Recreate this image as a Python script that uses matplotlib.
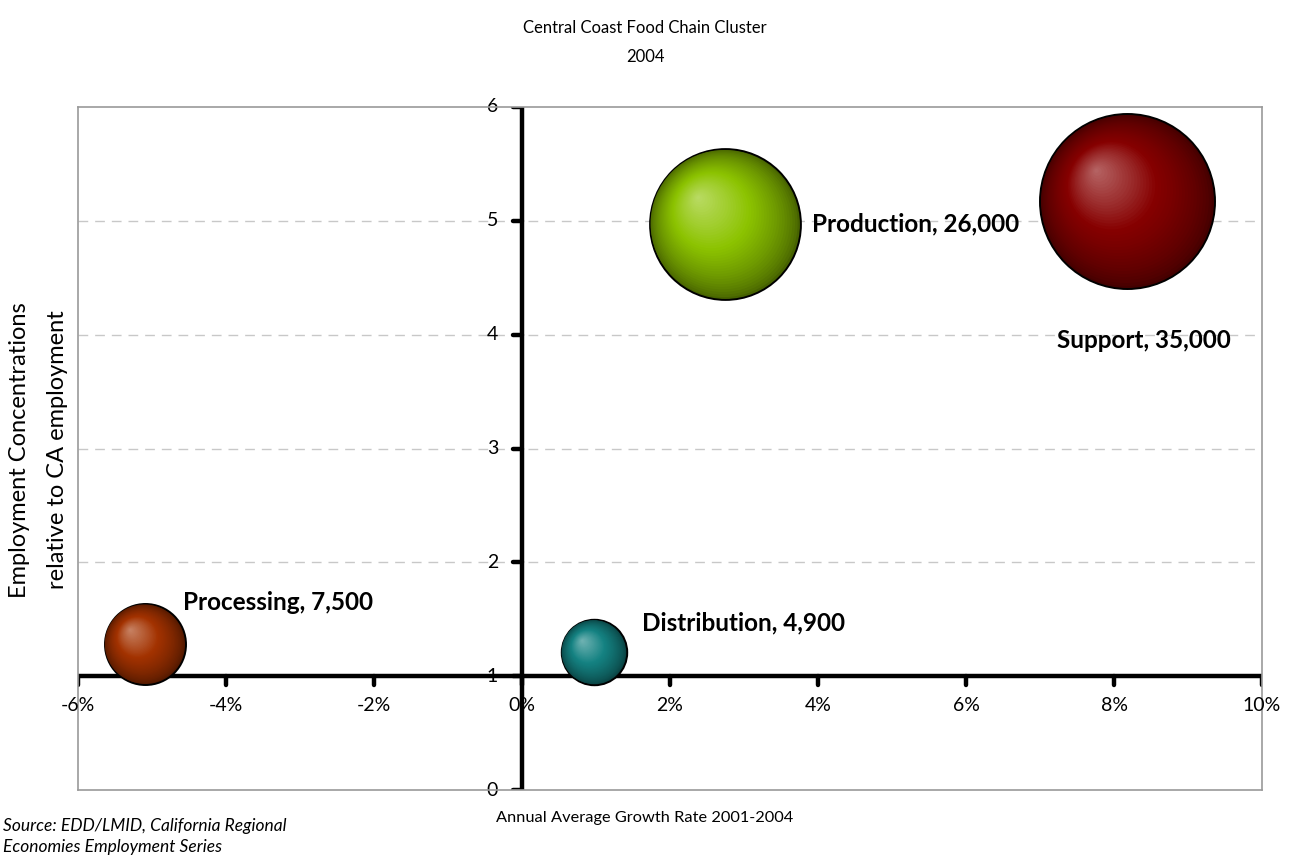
import numpy as np
import matplotlib
matplotlib.use("Agg")
import matplotlib.pyplot as plt
from matplotlib.transforms import ScaledTranslation
from matplotlib.colors import to_rgb

# Cluster segments: growth rate (%), employment concentration, employment
segments = ["Processing", "Distribution", "Production", "Support"]
growth = [-5.1, 0.97, 2.74, 8.18]
concentration = [1.28, 1.21, 4.97, 5.17]
employment = [7500, 4900, 26000, 35000]
colors = ["#A33200", "#148282", "#8CC300", "#860000"]
label_offsets = [(38, 42), (48, 29), (87, 0), (-70, -139)]  # pixels from bubble centre

x_ticks = [-6, -4, -2, 0, 2, 4, 6, 8, 10]
y_ticks = [0, 1, 2, 3, 4, 5, 6]

plt.rcParams["font.family"] = ["Lato", "DejaVu Sans"]

fig = plt.figure(figsize=(12.91, 8.58), dpi=100)
W, H = 1291, 858
ax = fig.add_axes([78 / W, 1 - 790 / H, (1262 - 78) / W, (790 - 107) / H])
ax.set_xlim(-6, 10)
ax.set_ylim(0, 6)
for s in ax.spines.values():
    s.set_color("#9a9a9a")
    s.set_linewidth(1.2)
ax.set_xticks([])
ax.set_yticks([])

# dashed horizontal gridlines
for yv in y_ticks[2:-1]:
    ax.axhline(yv, color="#c8c8c8", lw=1, ls=(0, (7, 5)), zorder=0)

# crossing axes: x axis at y=1, y axis at x=0
axis_kw = dict(color="black", lw=3.2, solid_capstyle="round", zorder=2)
ax.plot([-6, 10], [1, 1], **axis_kw)
ax.plot([0, 0], [0, 6], **axis_kw)
px = 16 / (1262 - 78)   # data units per pixel in x
py = 6 / (790 - 107)    # data units per pixel in y
for xv in x_ticks:
    ax.plot([xv, xv], [1, 1 - 9 * py], **axis_kw)
    ax.text(xv, 1 - 29 * py, f"{xv}%", ha="center", va="center", fontsize=14, zorder=5)
for yv in y_ticks:
    ax.plot([0, -9 * px], [yv, yv], **axis_kw)
    ax.text(-24 * px, yv, f"{yv}", ha="right", va="center", fontsize=14, zorder=1)


def shade(base, t):
    """Colour along a sphere gradient: t=0 edge (dark), t=1 highlight (light)."""
    b = np.array(to_rgb(base))
    dark = b * 0.5
    light = b + (1 - b) * 0.4
    if t < 0.6:
        u = t / 0.6
        return dark * (1 - u) + b * u
    u = (t - 0.6) / 0.4
    return b * (1 - u) + light * u


size_scale = 0.4536  # marker area (pt^2) per employee
n_layers = 40
for i, name in enumerate(segments):
    s_full = employment[i] * size_scale
    r_pt = np.sqrt(s_full) / 2
    # outline
    ax.scatter([growth[i]], [concentration[i]], s=s_full, color=shade(colors[i], 0.0),
               edgecolor="black", linewidth=1.4, zorder=3)
    for k in range(1, n_layers):
        t = k / n_layers
        s_k = s_full * (1 - t) ** 2
        off = ScaledTranslation(-0.36 * r_pt * t / 72, 0.36 * r_pt * t / 72, fig.dpi_scale_trans)
        ax.scatter([growth[i]], [concentration[i]], s=s_k, color=shade(colors[i], t ** 0.7),
                   edgecolor="none", transform=ax.transData + off, zorder=3.1)
    ax.annotate(f"{name}, {employment[i]:,}", (growth[i], concentration[i]),
                xytext=label_offsets[i], textcoords="offset pixels",
                ha="left", va="center", fontsize=17.5, fontweight="bold", zorder=6)

fig.text(645 / W, 1 - 28 / H, "Central Coast Food Chain Cluster", ha="center", va="center", fontsize=12)
fig.text(645 / W, 1 - 57 / H, "2004", ha="center", va="center", fontsize=12)
fig.text(645 / W, 1 - 818 / H, "Annual Average Growth Rate 2001-2004", ha="center", va="center", fontsize=11.8)
fig.text(20 / W, 1 - 450 / H, "Employment Concentrations", rotation=90, ha="center", va="center", fontsize=17)
fig.text(57 / W, 1 - 450 / H, "relative to CA employment", rotation=90, ha="center", va="center", fontsize=17)
fig.text(3 / W, 1 - 826 / H, "Source: EDD/LMID, California Regional", ha="left", va="center",
         fontsize=12.5, style="italic")
fig.text(3 / W, 1 - 847 / H, "Economies Employment Series", ha="left", va="center",
         fontsize=12.5, style="italic")

fig.savefig("out.png", dpi=100)
